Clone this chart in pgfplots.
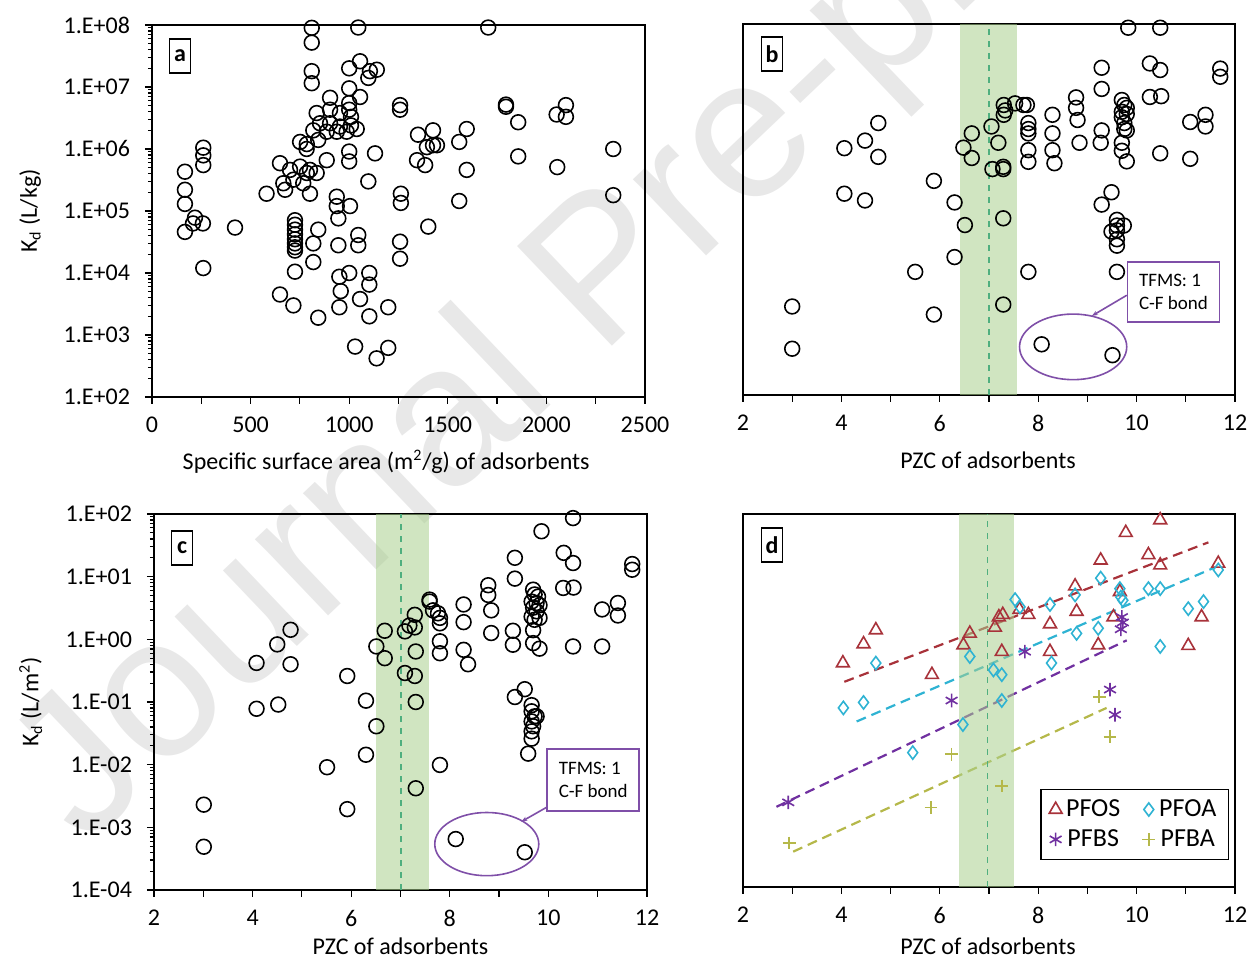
\documentclass[border=0pt]{standalone}
\usepackage{pgfplots}
\pgfplotsset{compat=1.18}
\usepackage{pgfplotstable}
\usepackage{fontspec}
\setmainfont{Carlito}
\newfontfamily\wmfont{Liberation Sans}
\usetikzlibrary{arrows.meta}

\definecolor{bandgreen}{HTML}{A9D08E}
\definecolor{bandline}{HTML}{4FAF7F}
\definecolor{tfms}{HTML}{7F4FA8}
\definecolor{pfos}{HTML}{A8323A}
\definecolor{pfoa}{HTML}{2FB3D3}
\definecolor{pfbs}{HTML}{7030A0}
\definecolor{pfba}{HTML}{B5B84A}

% panel a: specific surface area vs Kd (L/kg)
\pgfplotstableread{
x y
810 9.0e7
810 5.2e7
1046 9.1e7
810 1.8e7
810 1.15e7
1000 2.0e7
1055 2.6e7
1105 1.8e7
1140 1.9e7
1097 1.4e7
1000 9.5e6
1055 6.9e6
903 6.7e6
1000 5.5e6
1000 4.3e6
835 3.8e6
903 4.3e6
953 3.8e6
1009 3.3e6
852 2.6e6
903 2.6e6
953 2.3e6
1009 2.4e6
818 2.0e6
886 1.9e6
937 1.9e6
987 1.9e6
1038 2.1e6
843 1.4e6
785 1.2e6
751 1.3e6
784 1.0e6
886 6.6e5
1000 9.1e5
1000 6.3e5
1131 8.5e5
1097 3.0e5
260 1.05e6
260 7.9e5
260 5.5e5
167 4.3e5
167 2.2e5
167 1.3e5
649 5.9e5
700 4.6e5
751 5.2e5
785 4.1e5
717 3.2e5
801 4.6e5
835 4.1e5
666 2.8e5
767 2.8e5
581 1.9e5
675 2.2e5
801 1.9e5
937 1.7e5
937 1.2e5
1004 1.2e5
945 7.6e4
1262 1.9e5
1262 1.35e5
1349 1.7e6
1425 2.0e6
1425 1.15e6
1394 1.07e6
1344 6.6e5
1385 5.5e5
1445 1.15e6
1596 2.1e6
1558 1.3e6
1596 4.6e5
1795 5.2e6
1795 4.8e6
1857 2.7e6
2099 5.1e6
2052 3.6e6
2099 3.3e6
1857 7.6e5
2055 5.1e5
2339 1.0e6
2339 1.8e5
1558 1.45e5
1705 9.1e7
1258 5.1e6
1258 4.3e6
1401 5.6e4
1258 3.2e4
1258 1.7e4
218 7.8e4
258 6.3e4
167 4.6e4
208 6.3e4
421 5.4e4
260 1.2e4
725 7.1e4
725 6.0e4
725 5.0e4
725 4.2e4
725 3.5e4
725 3.0e4
725 2.6e4
725 2.3e4
725 1.05e4
843 5.0e4
818 3.0e4
818 1.5e4
649 4.5e3
717 3.0e3
843 1.9e3
945 2.8e4
1046 4.1e4
1046 2.8e4
950 8.7e3
1000 1.0e4
1102 1.0e4
1102 6.5e3
957 5.1e3
1055 3.8e3
950 2.8e3
1102 2.0e3
1198 2.8e3
1030 6.5e2
1139 4.2e2
1198 6.2e2
}\dataA

% panel b: PZC vs Kd (L/kg)
\pgfplotstableread{
x y
3.0 2.7e3
3.0 5.6e2
4.06 9.8e5
4.06 1.8e5
4.48 1.3e6
4.48 1.4e5
4.75 2.5e6
4.75 7.1e5
5.88 2.9e5
5.50 9.8e3
5.88 2.0e3
6.30 1.3e5
6.30 1.7e4
6.48 1.0e6
6.65 1.7e6
6.65 6.8e5
6.51 5.6e4
7.05 2.2e6
7.19 1.2e6
7.07 4.5e5
7.29 4.9e5
7.29 4.5e5
7.30 4.9e6
7.30 3.4e6
7.33 4.0e6
7.53 5.2e6
7.29 7.2e4
7.29 2.9e3
7.70 4.9e6
7.77 4.9e6
7.80 2.5e6
7.80 2.0e6
7.80 1.7e6
7.80 9.1e5
7.80 5.9e5
8.29 3.4e6
8.29 1.7e6
8.29 9.1e5
8.33 5.6e5
7.80 9.8e3
8.07 6.6e2
9.83 8.7e7
10.48 8.7e7
9.29 1.96e7
9.29 8.9e6
10.27 2.3e7
10.48 1.8e7
10.27 6.6e6
10.50 6.8e6
11.70 1.9e7
11.70 1.4e7
8.77 6.5e6
8.77 4.4e6
8.80 2.8e6
8.84 1.2e6
9.29 1.9e6
9.27 1.2e6
9.70 5.9e6
9.75 4.9e6
9.70 3.8e6
9.80 4.4e6
9.70 3.1e6
9.80 3.5e6
9.75 2.5e6
9.75 2.0e6
9.80 1.9e6
9.70 1.2e6
9.70 8.9e5
9.80 6.0e5
10.48 8.1e5
11.09 2.6e6
11.40 3.4e6
11.40 2.2e6
11.09 6.6e5
9.49 1.9e5
9.29 1.2e5
9.60 6.8e4
9.60 5.5e4
9.74 5.5e4
9.49 4.4e4
9.60 4.6e4
9.60 3.3e4
9.60 2.6e4
9.60 9.8e3
9.51 4.4e2
}\dataB

% panel c: PZC vs Kd (L/m2)
\pgfplotstableread{
x y
3.01 2.3e-3
3.01 4.9e-4
4.08 0.42
4.08 0.078
4.50 0.83
4.52 0.091
4.77 1.42
4.77 0.40
5.51 9.1e-3
5.92 0.26
5.92 1.95e-3
6.30 0.105
6.30 0.0144
6.51 0.77
6.68 1.37
6.68 0.50
6.51 0.041
7.09 1.34
7.18 1.66
7.29 1.55
7.29 2.46
7.31 0.64
7.09 0.29
7.29 0.26
7.31 0.10
7.31 4.2e-3
7.59 4.0
7.59 4.3
7.66 2.9
7.76 2.6
7.80 2.2
7.80 1.8
7.80 0.93
7.80 0.60
7.80 9.9e-3
8.12 6.5e-4
8.28 3.6
8.28 1.88
8.28 0.68
8.37 0.40
8.78 7.3
8.78 5.1
8.84 2.9
8.84 1.26
9.32 20
9.32 9.3
9.28 1.37
9.28 0.82
9.52 0.16
9.32 0.12
9.66 0.089
9.66 0.071
9.72 0.059
9.76 0.059
9.66 0.049
9.69 0.041
9.66 0.034
9.66 0.026
9.59 0.015
9.52 4.0e-4
9.69 6.2
9.72 5.2
9.79 4.8
9.66 4.0
9.76 3.8
9.82 3.5
9.69 3.2
9.76 2.8
9.66 2.3
9.82 2.2
9.72 2.05
9.69 1.4
9.69 0.87
9.82 0.71
9.86 53
10.31 24
10.50 16.5
10.50 86
10.30 6.6
10.51 6.7
10.50 0.77
11.09 3.0
11.09 0.77
11.41 3.8
11.41 2.4
11.70 15.9
11.70 12.9
}\dataC

% panel d: four PFAS
\pgfplotstableread{
x y
4.03 0.40
4.45 0.81
4.70 1.36
5.84 0.26
6.48 0.78
6.61 1.2
7.12 1.5
7.20 2.2
7.28 2.4
7.26 0.61
7.62 2.9
7.80 2.4
8.24 1.7
8.24 0.61
8.75 6.9
8.78 2.7
9.22 0.78
9.27 18
9.53 2.2
9.66 5.6
9.78 50
10.24 22
10.48 15
10.48 80
11.05 0.76
11.32 2.2
11.66 16
}\pfos
\pgfplotstableread{
x y
4.04 0.076
4.45 0.093
4.70 0.40
5.45 0.0145
6.47 0.041
6.61 0.51
7.09 0.31
7.26 0.26
7.26 0.10
7.53 4.2
7.63 3.2
8.24 3.5
8.27 0.40
8.75 5.0
8.78 1.2
9.22 1.45
9.27 9.3
9.66 6.3
9.68 4.6
9.72 4.1
10.24 6.3
10.48 6.3
10.48 0.74
11.05 3.0
11.36 3.9
11.66 12.6
}\pfoa
\pgfplotstableread{
x y
2.92 2.3e-3
6.24 0.10
7.73 0.61
9.46 0.15
9.56 0.059
9.70 2.2
9.72 1.8
9.68 1.4
}\pfbs
\pgfplotstableread{
x y
2.94 5.1e-4
5.82 1.9e-3
6.24 0.0137
7.26 4.2e-3
9.24 0.115
9.46 0.026
}\pfba

\pgfplotsset{
  kdcirc/.style={only marks, mark=o, mark size=3.7pt, black, mark options={line width=0.8pt}},
}
\newcommand{\fs}{\fontsize{12}{14}\selectfont}
\newcommand{\panellabel}[3]{\node[draw, line width=0.7pt, inner sep=1.5pt, minimum width=10.5pt, minimum height=17pt, font=\fs\bfseries] at (rel axis cs:#1,#2) {#3};}

\begin{document}
\begin{tikzpicture}
\useasboundingbox (0,0) rectangle (625pt,479pt);

% watermark of the journal page
\node[rotate=43.6, anchor=base west, inner sep=0pt, text=black!9,
  font=\wmfont\fontsize{100}{100}\selectfont] at (42.5pt,55pt) {Journal Pre-proof};

% ---- a ----
\begin{axis}[at={(76pt,280.5pt)}, anchor=south west,
  scale only axis, width=246.5pt, height=186pt, ymode=log, clip=false,
  tick pos=left, tick align=outside,
  axis line style={line width=0.8pt},
  major tick length=3.5pt, minor tick length=2pt,
  tick style={black, line width=0.6pt},
  tick label style={font=\fs}, label style={font=\fs},
  yticklabel style={xshift=-4pt}, xticklabel style={yshift=-3pt},
  xmin=0, xmax=2500, xtick={0,250,...,2500},
  xticklabels={0,,500,,1000,,1500,,2000,,2500},
  ymin=1e2, ymax=1e8, ytick={1e2,1e3,1e4,1e5,1e6,1e7,1e8},
  minor ytick={2e2,3e2,4e2,5e2,6e2,7e2,8e2,9e2,2e3,3e3,4e3,5e3,6e3,7e3,8e3,9e3,
    2e4,3e4,4e4,5e4,6e4,7e4,8e4,9e4,2e5,3e5,4e5,5e5,6e5,7e5,8e5,9e5,
    2e6,3e6,4e6,5e6,6e6,7e6,8e6,9e6,2e7,3e7,4e7,5e7,6e7,7e7,8e7,9e7},
  yticklabels={1.E+02,1.E+03,1.E+04,1.E+05,1.E+06,1.E+07,1.E+08},
  xlabel={Specific surface area (m\textsuperscript{2}/g) of adsorbents},
  ylabel={K\textsubscript{d} (L/kg)},
  xlabel style={at={(axis description cs:0.475,-0.175)}, anchor=center},
  ylabel style={at={(axis description cs:-0.247,0.5)}, anchor=center},
]
\addplot[kdcirc] table {\dataA};
\panellabel{0.057}{0.917}{a}
\end{axis}

% ---- b ----
\begin{axis}[at={(371.5pt,281.5pt)}, anchor=south west,
  scale only axis, width=246pt, height=185.5pt, ymode=log, clip=false,
  tick pos=left, tick align=outside,
  axis line style={line width=0.8pt},
  major tick length=3.5pt, minor tick length=2pt,
  tick style={black, line width=0.6pt},
  tick label style={font=\fs}, label style={font=\fs},
  xticklabel style={yshift=-3pt},
  xmin=2, xmax=12, xtick={2,3,...,12}, xticklabels={2,,4,,6,,8,,10,,12},
  ymin=1e2, ymax=1e8, ytick=\empty,
  xlabel={PZC of adsorbents},
  xlabel style={at={(axis description cs:0.498,-0.175)}, anchor=center},
]
\addplot[kdcirc] table {\dataB};
\fill[bandgreen, opacity=0.55] (axis cs:6.42,1e2) rectangle (axis cs:7.56,1e8);
\draw[bandline, dashed, line width=0.8pt] (axis cs:7,1e2) -- (axis cs:7,1e8);
\draw[tfms, line width=0.8pt] (axis cs:8.71,600) ellipse [x radius=26.8pt, y radius=16.4pt];
\node[draw=tfms, line width=0.8pt, fill=white, align=left, inner sep=3pt,
  minimum width=46pt, minimum height=30pt, font=\fontsize{9.5}{11.5}\selectfont]
  at (axis cs:10.75,4.6e3) {TFMS: 1\\C-F bond};
\draw[tfms, line width=0.8pt, -{Stealth[length=3pt]}] (axis cs:9.80,4.1e3) -- (axis cs:9.09,1.9e3);
\panellabel{0.059}{0.919}{b}
\end{axis}

% ---- c ----
\begin{axis}[at={(77pt,34pt)}, anchor=south west,
  scale only axis, width=246.5pt, height=188pt, ymode=log, clip=false,
  tick pos=left, tick align=outside,
  axis line style={line width=0.8pt},
  major tick length=3.5pt, minor tick length=2pt,
  tick style={black, line width=0.6pt},
  tick label style={font=\fs}, label style={font=\fs},
  yticklabel style={xshift=-4pt}, xticklabel style={yshift=-3pt},
  xmin=2, xmax=12, xtick={2,3,...,12}, xticklabels={2,,4,,6,,8,,10,,12},
  ymin=1e-4, ymax=1e2, ytick={1e-4,1e-3,1e-2,1e-1,1,1e1,1e2},
  minor ytick={2e-4,3e-4,4e-4,5e-4,6e-4,7e-4,8e-4,9e-4,2e-3,3e-3,4e-3,5e-3,6e-3,7e-3,8e-3,9e-3,
    2e-2,3e-2,4e-2,5e-2,6e-2,7e-2,8e-2,9e-2,0.2,0.3,0.4,0.5,0.6,0.7,0.8,0.9,
    2,3,4,5,6,7,8,9,20,30,40,50,60,70,80,90},
  yticklabels={1.E-04,1.E-03,1.E-02,1.E-01,1.E+00,1.E+01,1.E+02},
  xlabel={PZC of adsorbents},
  ylabel={K\textsubscript{d} (L/m\textsuperscript{2})},
  xlabel style={at={(axis description cs:0.5,-0.15)}, anchor=center},
  ylabel style={at={(axis description cs:-0.25,0.5)}, anchor=center},
]
\addplot[kdcirc] table {\dataC};
\fill[bandgreen, opacity=0.55] (axis cs:6.50,1e-4) rectangle (axis cs:7.58,1e2);
\draw[bandline, dashed, line width=0.8pt] (axis cs:7.01,1e-4) -- (axis cs:7.01,1e2);
\draw[tfms, line width=0.8pt] (axis cs:8.75,5.4e-4) ellipse [x radius=26pt, y radius=15.8pt];
\node[draw=tfms, line width=0.8pt, fill=white, align=left, inner sep=3pt,
  minimum width=46pt, minimum height=31pt, font=\fontsize{9.5}{11.5}\selectfont]
  at (axis cs:10.91,5.7e-3) {TFMS: 1\\C-F bond};
\draw[tfms, line width=0.8pt, -{Stealth[length=3pt]}] (axis cs:9.97,2.1e-3) -- (axis cs:9.45,1.23e-3);
\panellabel{0.057}{0.91}{c}
\end{axis}

% ---- d ----
\begin{axis}[at={(371.5pt,35.5pt)}, anchor=south west,
  scale only axis, width=246pt, height=186.5pt, ymode=log, clip=false,
  tick pos=left, tick align=outside,
  axis line style={line width=0.8pt},
  major tick length=3.5pt, minor tick length=2pt,
  tick style={black, line width=0.6pt},
  tick label style={font=\fs}, label style={font=\fs},
  xticklabel style={yshift=-3pt},
  xmin=2, xmax=12, xtick={2,3,...,12}, xticklabels={2,,4,,6,,8,,10,,12},
  ymin=1e-4, ymax=1e2, ytick=\empty,
  xlabel={PZC of adsorbents},
  xlabel style={at={(axis description cs:0.498,-0.158)}, anchor=center},
  legend columns=2,
  legend style={at={(0.988,0.072)}, anchor=south east, draw=black, line width=0.8pt,
    font=\fontsize{13}{15}\selectfont, inner xsep=4pt, inner ysep=3pt, row sep=1pt,
    /tikz/every even column/.append style={column sep=9pt}},
]
\addplot[only marks, pfos, mark=triangle, mark size=3.7pt, mark options={line width=0.8pt}] table {\pfos};
\addlegendentry{PFOS}
\addplot[only marks, pfoa, mark=diamond, mark size=3.3pt, mark options={line width=0.8pt}] table {\pfoa};
\addlegendentry{PFOA}
\addplot[only marks, pfbs, mark=asterisk, mark size=3.4pt, mark options={line width=0.8pt}] table {\pfbs};
\addlegendentry{PFBS}
\addplot[only marks, pfba, mark=+, mark size=3.2pt, mark options={line width=0.8pt}] table {\pfba};
\addlegendentry{PFBA}
% exponential trend lines, end points
\addplot[forget plot, pfos, line width=1.1pt, dash pattern=on 5pt off 3pt] coordinates {(4.06,0.20) (11.46,35)};
\addplot[forget plot, pfoa, line width=1.1pt, dash pattern=on 5pt off 3pt] coordinates {(4.31,0.046) (11.56,13.5)};
\addplot[forget plot, pfbs, line width=1.1pt, dash pattern=on 5pt off 3pt] coordinates {(2.68,1.95e-3) (9.80,0.93)};
\addplot[forget plot, pfba, line width=1.1pt, dash pattern=on 5pt off 3pt] coordinates {(3.02,3.7e-4) (9.39,0.076)};
\fill[bandgreen, opacity=0.55] (axis cs:6.38,1e-4) rectangle (axis cs:7.5,1e2);
\draw[bandline, dashed, line width=0.8pt] (axis cs:6.97,1e-4) -- (axis cs:6.97,1e2);
\panellabel{0.059}{0.917}{d}
\end{axis}
\end{tikzpicture}
\end{document}
